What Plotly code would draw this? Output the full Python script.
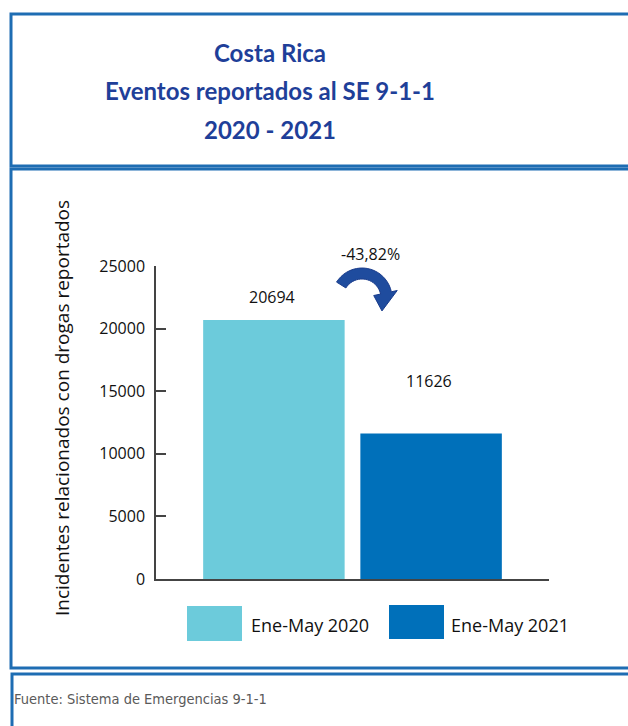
import math
import plotly.graph_objects as go

# ---------------- data ----------------
categories = ["Ene-May 2020", "Ene-May 2021"]
values = [20694, 11626]
bar_colors = ["#6CCBDB", "#0070BA"]
change_label = "-43,82%"
y_ticks = [0, 5000, 10000, 15000, 20000, 25000]
title_lines = ["Costa Rica", "Eventos reportados al SE 9-1-1", "2020 - 2021"]
y_title = "Incidentes relacionados con drogas reportados"
source_text = "Fuente: Sistema de Emergencias 9-1-1"

# ---------------- layout geometry (pixels) ----------------
W, H = 628, 726
L, R, T, B = 156, 549, 266, 579  # plot area edges in pixels


def px(x):
    return (x - L) / (R - L)


def py(y):
    return (B - y) / (B - T)


fig = go.Figure()
for i, (cat, val, col) in enumerate(zip(categories, values, bar_colors)):
    fig.add_trace(go.Bar(x=[i], y=[val], name=cat, marker=dict(color=col, line=dict(width=0)),
                         width=0.9, showlegend=False, hoverinfo="x+y"))

txt_font = "Open Sans, Noto Sans, sans-serif"
annotations = []
# value labels
label_shift = [23, 52]
for i, val in enumerate(values):
    annotations.append(dict(x=i - 0.015, y=val, xref="x", yref="y", text=str(val), showarrow=False,
                            yshift=label_shift[i], xanchor="center", yanchor="middle",
                            font=dict(family=txt_font, size=16, color="#111")))
# change label
annotations.append(dict(x=px(370), y=py(254), xref="paper", yref="paper", text=change_label,
                        xanchor="center", yanchor="middle",
                        showarrow=False, font=dict(family=txt_font, size=16, color="#111")))
# y title
annotations.append(dict(x=px(62), y=py(408), xref="paper", yref="paper", text=y_title, textangle=-90,
                        xanchor="center", yanchor="middle",
                        showarrow=False, font=dict(family=txt_font, size=19, color="#111")))
# title lines
for j, line in enumerate(title_lines):
    annotations.append(dict(x=px(270), y=py(52 + 38.5 * j), xref="paper", yref="paper", text="<b>%s</b>" % line,
                            xanchor="center", yanchor="middle",
                            showarrow=False, font=dict(family="Lato, Noto Sans, sans-serif", size=24, color="#1F3F99")))
# legend texts
leg_x = [249, 449]
for j, cat in enumerate(categories):
    annotations.append(dict(x=px(leg_x[j]), y=py(625), xref="paper", yref="paper", text=cat,
                            xanchor="left", yanchor="middle",
                            showarrow=False, font=dict(family=txt_font, size=18, color="#111")))
# source
annotations.append(dict(x=px(12), y=py(699), xref="paper", yref="paper", text=source_text,
                        xanchor="left", yanchor="middle",
                        showarrow=False,
                        font=dict(family="Liberation Sans Narrow, DejaVu Sans Condensed, Roboto, sans-serif",
                                  size=14.5, color="#5a5a5a")))

shapes = []
# frame boxes
box_col = "#1E6DB3"
for (x0, y0, x1, y1) in [(11, 14, 640, 166), (11, 169, 640, 668), (12, 674, 640, 740)]:
    shapes.append(dict(type="rect", xref="paper", yref="paper", x0=px(x0), x1=px(x1), y0=py(y0), y1=py(y1),
                       line=dict(color=box_col, width=3), fillcolor="rgba(0,0,0,0)", layer="below"))
# legend swatches
for (x0, y0, x1, y1), col in zip([(187, 606, 242, 641), (389, 605, 444, 639)], bar_colors):
    shapes.append(dict(type="rect", xref="paper", yref="paper", x0=px(x0), x1=px(x1), y0=py(y0), y1=py(y1),
                       line=dict(width=0), fillcolor=col))

# curved arrow
cx, cy, Ro, Ri = 362, 298, 30, 19
a0, a1 = 148, 12
pts_out = [(cx + Ro * math.cos(math.radians(a)), cy - Ro * math.sin(math.radians(a)))
           for a in [a0 + (a1 - a0) * k / 20 for k in range(21)]]
pts_in = [(cx + Ri * math.cos(math.radians(a)), cy - Ri * math.sin(math.radians(a)))
          for a in [a1 + (a0 - a1) * k / 20 for k in range(21)]]
ang = math.radians(a1)
ux, uy = math.cos(ang), -math.sin(ang)  # radial unit (screen)
mid_r = (Ro + Ri) / 2
wing_out = (cx + (Ro + 6) * ux, cy + (Ro + 6) * uy)
wing_in = (cx + (Ri - 7) * ux, cy + (Ri - 7) * uy)
tip = (cx + mid_r * ux - 4, cy + mid_r * uy + 18)
poly = pts_out + [wing_out, tip, wing_in] + pts_in
path = "M " + " L ".join("%.4f,%.4f" % (px(x), py(y)) for x, y in poly) + " Z"
shapes.append(dict(type="path", xref="paper", yref="paper", path=path, fillcolor="#1F4C9E",
                   line=dict(color="#1A3C8C", width=1)))

fig.update_layout(
    width=W, height=H,
    margin=dict(l=L, r=W - R, t=T, b=H - B, pad=0),
    paper_bgcolor="white", plot_bgcolor="white",
    barmode="overlay",
    showlegend=False,
    xaxis=dict(range=[-0.75, 1.75], showgrid=False, zeroline=False, showline=True, linecolor="#444",
               linewidth=1.5, tickvals=[1.75], ticks="inside", ticklen=9, tickcolor="#444", tickwidth=1.5,
               showticklabels=False, fixedrange=True),
    yaxis=dict(range=[0, 25000], tickvals=y_ticks, tickformat="d", showgrid=False, zeroline=False,
               showline=True, linecolor="#444", linewidth=1.5, ticks="inside", ticklen=10, tickcolor="#444",
               tickwidth=1.5, ticklabelstandoff=6,
               tickfont=dict(family=txt_font, size=16, color="#111"), fixedrange=True),
    annotations=annotations,
    shapes=shapes,
)

fig.write_html("out.html", config={"displayModeBar": False},
               post_script="document.body.style.margin='0';document.body.style.overflow='hidden';")
